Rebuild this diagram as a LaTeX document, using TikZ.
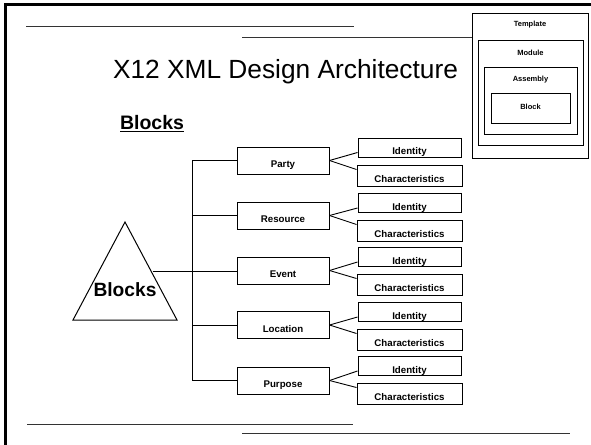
\documentclass[tikz,border=0pt]{standalone}
\usepackage{fontspec}
\setmainfont{Liberation Sans}
\usetikzlibrary{calc}
\newcommand{\lowtxt}[1]{\raisebox{-7pt}[0pt][0pt]{#1}}
\begin{document}
\begin{tikzpicture}[x=1pt,y=-1pt,
  thin line/.style={line width=1pt,draw=black!80},
  catbox/.style={draw,line width=1pt,minimum width=92pt,minimum height=27pt,inner sep=0pt,font=\bfseries\fontsize{9.7}{10}\selectfont},
  idbox/.style={draw,line width=1pt,minimum width=103pt,minimum height=19pt,inner sep=0pt,font=\bfseries\fontsize{9.7}{10}\selectfont},
  chbox/.style={draw,line width=1pt,minimum width=105pt,minimum height=21pt,inner sep=0pt,font=\bfseries\fontsize{9.7}{10}\selectfont},
  nest/.style={draw,line width=1pt,inner sep=0pt},
  nestlbl/.style={font=\bfseries\fontsize{7.5}{8}\selectfont,inner sep=0pt},
  conn/.style={line width=0.9pt,draw=black}]
\useasboundingbox (0,0) rectangle (591,444);
\fill[white] (0,0) rectangle (591,444);
% frame
\draw[line width=3pt] (5,446) -- (5,5) -- (593,5);
% decorative lines
\coordinate (l1a) at (26,27); \coordinate (l1b) at (354,27);
\draw[thin line] (l1a) -- (l1b);
\coordinate (l3a) at (27,424); \coordinate (l3b) at (353,424);
\draw[thin line] (l3a) -- (l3b);
\coordinate (l4a) at (242,433); \coordinate (l4b) at (570,433);
\draw[thin line] (l4a) -- (l4b);
% title
\node[font=\fontsize{26.3}{30}\selectfont,inner sep=0pt] (title) at (285.5,72) {X12 XML Design Architecture};
\node[font=\bfseries\fontsize{19.5}{22}\selectfont,inner sep=0pt] (heading) at (152,124) {\underline{Blocks}};
% nested template boxes
\draw[nest] (472,14) rectangle (588,158);
\coordinate (tplW) at (472,38);
\draw[nest] (478,41) rectangle (583,145);
\draw[nest] (484,67) rectangle (577,134);
\draw[nest] (491,93) rectangle (570,123);
\node[nestlbl] (tpl) at (530,25) {Template};
\node[nestlbl] (mod) at (530.5,53) {Module};
\node[nestlbl] (asm) at (530.5,80) {Assembly};
\node[nestlbl] (blk) at (530.5,107) {Block};
\coordinate (l2a) at (242,38);
\draw[thin line] (l2a) -- (tplW);
% triangle
\draw[line width=1pt] (125,222) -- (177,320) -- (73,320) -- cycle;
\node[font=\bfseries\fontsize{19.2}{22}\selectfont,inner sep=0pt] (tri) at (125,290) {Blocks};
\coordinate (triR) at (152.5,271);
% category boxes
\node[catbox] (party) at (283,160.5) {\lowtxt{Party}};
\node[catbox] (resource) at (283,215.5) {\lowtxt{Resource}};
\node[catbox] (event) at (283,270.5) {\lowtxt{Event}};
\node[catbox] (location) at (283,325) {\lowtxt{Location}};
\node[catbox] (purpose) at (283,380.5) {\lowtxt{Purpose}};
% identity / characteristics
\foreach \n/\iy/\cy in {party/147.5/175.5, resource/203/230.5, event/257/284.5, location/312/339.5, purpose/366/393.5}{
  \node[idbox] (\n id) at (409.5,\iy) {\lowtxt{Identity}};
  \node[chbox] (\n ch) at (409.5,\cy) {\lowtxt{Characteristics}};
  \draw[conn] (\n.east) -- ($(\n id.south west)+(0,-5)$);
  \draw[conn] (\n.east) -- ($(\n ch.north west)+(0,5)$);
}
% trunk
\coordinate (trunk) at (192,0);
\draw[conn] (party.west -| trunk) -- (purpose.west -| trunk);
\foreach \n in {party,resource,location,purpose}{
  \draw[conn] (\n.west -| trunk) -- (\n.west);
}
\draw[conn] (triR) -- (triR -| event.west);
\end{tikzpicture}
\end{document}
